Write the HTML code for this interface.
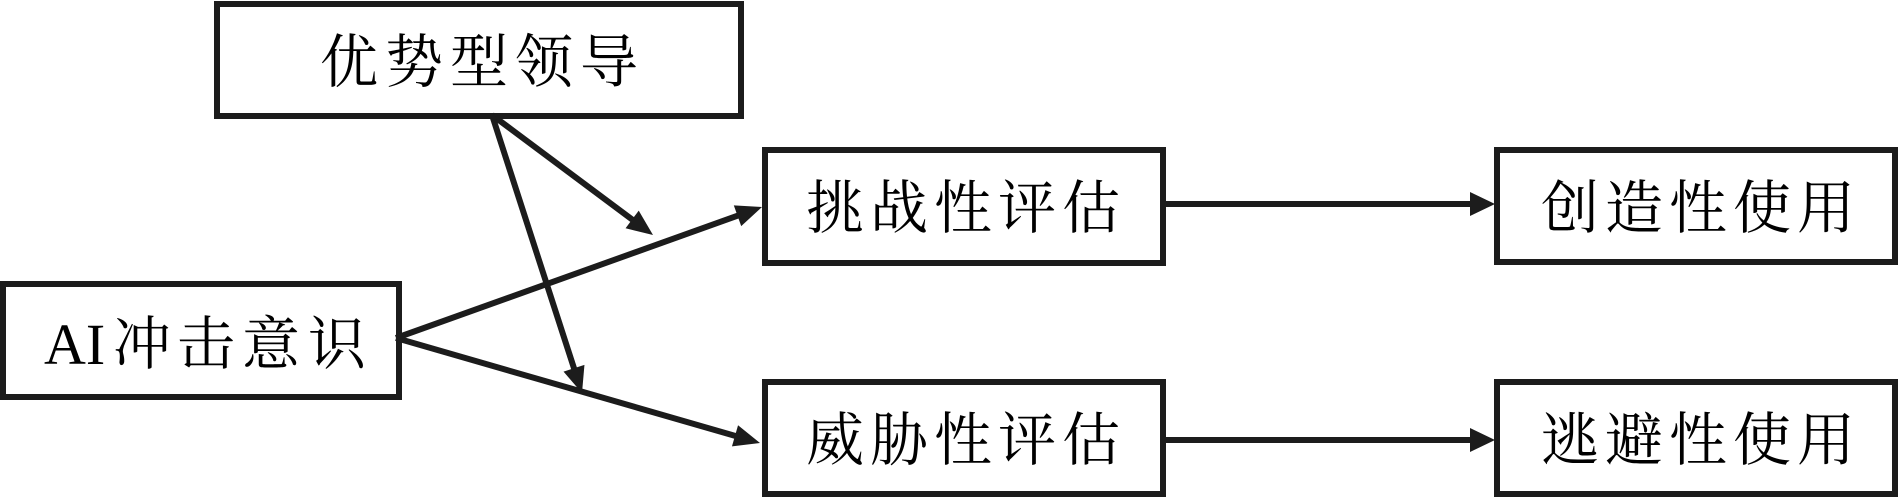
<!DOCTYPE html>
<html><head><meta charset="utf-8"><style>
html,body{margin:0;padding:0;background:#fff;}
svg{display:block;}
text{font-family:"Noto Serif CJK SC","Liberation Serif",serif;font-size:58px;fill:#000;}
.l{font-family:"Liberation Serif","Noto Serif CJK SC",serif;font-size:58px;}
</style></head><body>
<svg width="1900" height="499" viewBox="0 0 1900 499" xmlns="http://www.w3.org/2000/svg">
<g fill="none" stroke="#1c1c1c" stroke-width="6">
<rect x="217" y="4" width="524" height="112"/>
<rect x="3" y="284" width="396" height="113"/>
<rect x="765" y="150" width="398" height="113"/>
<rect x="765" y="382" width="398" height="112"/>
<rect x="1497" y="150" width="398" height="112"/>
<rect x="1497" y="382" width="398" height="112"/>
</g>
<g stroke="#1c1c1c" stroke-width="6" fill="none" stroke-linecap="butt">
<line x1="492" y1="115" x2="636.96" y2="223.04"/>
<line x1="492" y1="115" x2="575.84" y2="373.98"/>
<line x1="396" y1="338" x2="743.16" y2="213.72"/>
<line x1="396" y1="338" x2="740.78" y2="437.48"/>
<line x1="1166" y1="204" x2="1476" y2="204"/>
<line x1="1166" y1="440" x2="1476" y2="440"/>
</g>
<g fill="#1c1c1c">
<polygon points="653,235 625.57,228.27 638.73,210.63"/>
<polygon points="582,393 563.53,371.66 584.45,364.88"/>
<polygon points="762,207 741.21,226.10 733.81,205.38"/>
<polygon points="760,443 731.97,446.39 738.05,425.25"/>
<polygon points="1495,204 1470,192 1470,216"/>
<polygon points="1495,440 1470,428 1470,452"/>
</g>
<text x="320 385 450 515 580" y="82">优势型领导</text>
<text class="l" x="44" y="364">AI</text>
<text x="113 177 242 308" y="364">冲击意识</text>
<text x="806 870 934 998 1062" y="228">挑战性评估</text>
<text x="806 870 934 998 1062" y="460">威胁性评估</text>
<text x="1541 1605 1669 1733 1797" y="228">创造性使用</text>
<text x="1541 1605 1669 1733 1797" y="460">逃避性使用</text>
</svg>
</body></html>
